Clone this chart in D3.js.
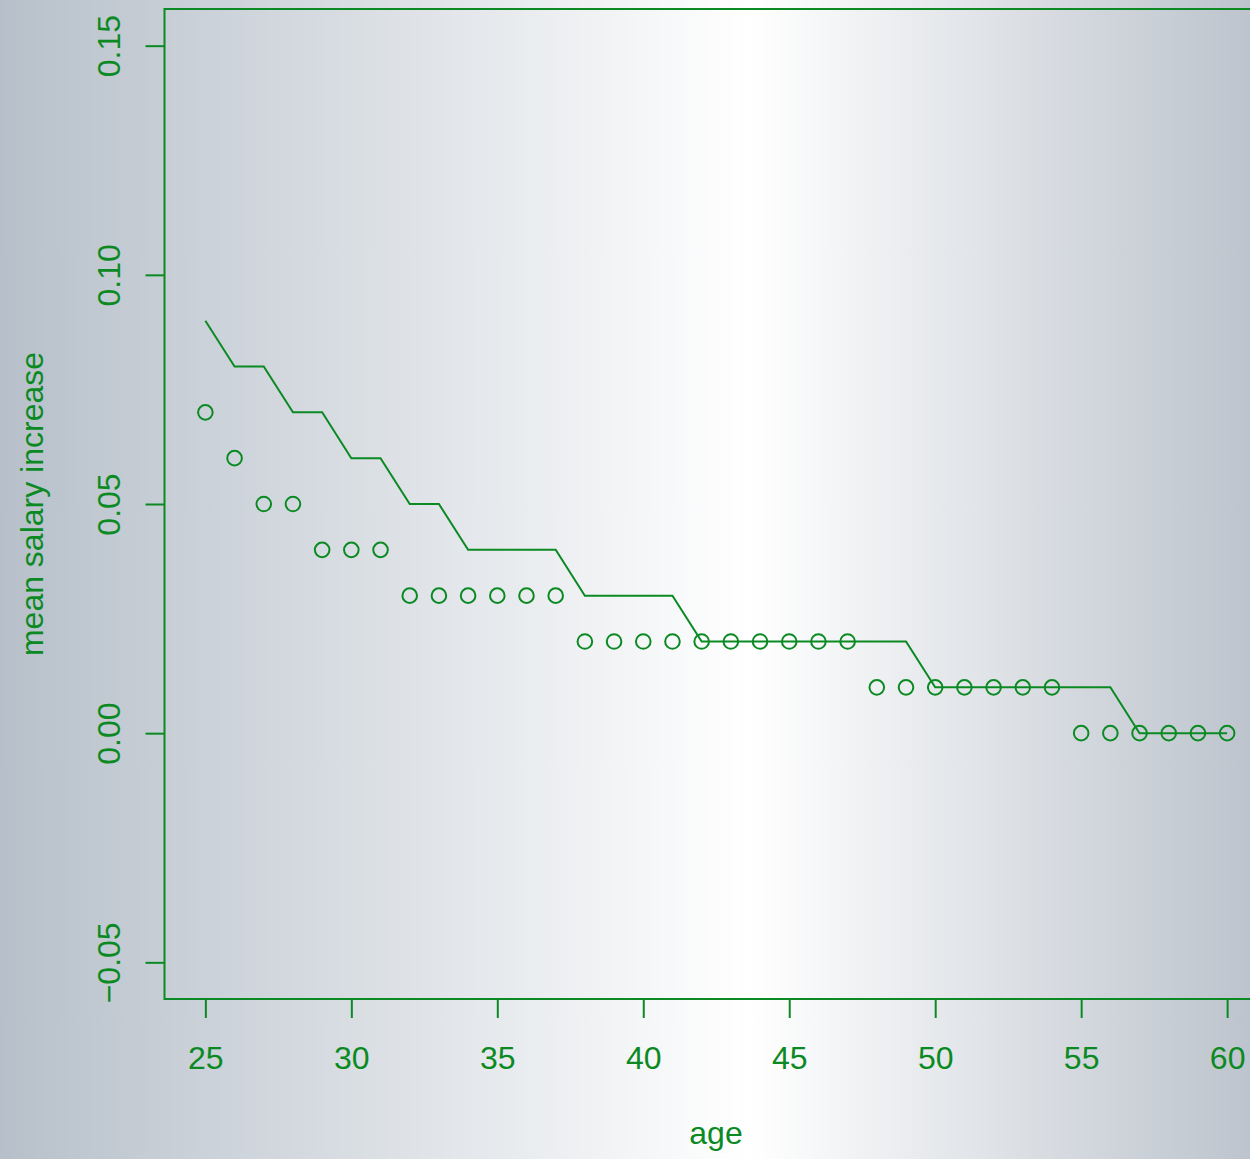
<!DOCTYPE html>
<html><head><meta charset="utf-8">
<script src="https://cdn.jsdelivr.net/npm/d3@7"></script>
<style>html,body{margin:0;padding:0;overflow:hidden}svg{display:block}</style>
</head><body>
<script>
const ages = [25,26,27,28,29,30,31,32,33,34,35,36,37,38,39,40,41,42,43,44,45,46,47,48,49,50,51,52,53,54,55,56,57,58,59,60];
const pointValues = [0.07,0.06,0.05,0.05,0.04,0.04,0.04,0.03,0.03,0.03,0.03,0.03,0.03,0.02,0.02,0.02,0.02,0.02,0.02,0.02,0.02,0.02,0.02,0.01,0.01,0.01,0.01,0.01,0.01,0.01,0.00,0.00,0.00,0.00,0.00,0.00];
const lineValues = [0.09,0.08,0.08,0.07,0.07,0.06,0.06,0.05,0.05,0.04,0.04,0.04,0.04,0.03,0.03,0.03,0.03,0.02,0.02,0.02,0.02,0.02,0.02,0.02,0.02,0.01,0.01,0.01,0.01,0.01,0.01,0.01,0.00,0.00,0.00,0.00];
const xTicks = [25,30,35,40,45,50,55,60];
const yTicks = [-0.05,0.00,0.05,0.10,0.15];
const yTickLabels = ["\u22120.05","0.00","0.05","0.10","0.15"];
const xLabel = "age";
const yLabel = "mean salary increase";

const W = 1250, H = 1159;
const col = "#0b8a23";
const font = "Liberation Sans, Arial, sans-serif";
const fs = 32;
const svg = d3.select("body").append("svg").attr("width", W).attr("height", H);
const defs = svg.append("defs");
const g = defs.append("linearGradient").attr("id","bg").attr("x1","0").attr("x2","1").attr("y1","0").attr("y2","0");
g.append("stop").attr("offset","0").attr("stop-color","#b7c0ca");
g.append("stop").attr("offset","0.6").attr("stop-color","#ffffff");
g.append("stop").attr("offset","1").attr("stop-color","#bdc4cd");
svg.append("rect").attr("width",W).attr("height",H).attr("fill","url(#bg)");

const x = d3.scaleLinear().domain([23.6, 61.4]).range([164.5, 1268]);
const y = d3.scaleLinear().domain([-0.058, 0.158]).range([999, 9]);

// box
svg.append("rect").attr("x", x.range()[0]).attr("y", y.range()[1])
  .attr("width", x.range()[1]-x.range()[0]).attr("height", y.range()[0]-y.range()[1])
  .attr("fill","none").attr("stroke",col).attr("stroke-width",2);

// x axis
const xAxis = d3.axisBottom(x).tickValues(xTicks).tickSize(19).tickFormat(d3.format("d"));
const xg = svg.append("g").attr("transform",`translate(0,${y.range()[0]})`).call(xAxis);
xg.select(".domain").remove();
xg.selectAll("line").attr("stroke",col).attr("stroke-width",2);
xg.selectAll("text").attr("fill",col).attr("font-size",fs).attr("font-family",font)
  .attr("dy",null).attr("y",70);

// y axis
const yAxis = d3.axisLeft(y).tickValues(yTicks).tickSize(19).tickFormat((d,i)=>yTickLabels[i]);
const yg = svg.append("g").attr("transform",`translate(${x.range()[0]},0)`).call(yAxis);
yg.select(".domain").remove();
yg.selectAll("line").attr("stroke",col).attr("stroke-width",2);
yg.selectAll("text").attr("fill",col).attr("font-size",fs).attr("font-family",font)
  .attr("x",null).attr("dy",null).attr("text-anchor","middle")
  .attr("transform","translate(-44.5,0) rotate(-90)");

// labels
svg.append("text").attr("x", 716).attr("y", 1144).attr("text-anchor","middle")
  .attr("fill",col).attr("font-size",fs).attr("font-family",font).text(xLabel);
svg.append("text").attr("transform","translate(43,504) rotate(-90)").attr("text-anchor","middle")
  .attr("fill",col).attr("font-size",fs).attr("font-family",font).text(yLabel);

// line
const line = d3.line().x((d,i)=>x(ages[i])).y(d=>y(d));
svg.append("path").datum(lineValues).attr("d",line).attr("fill","none").attr("stroke",col).attr("stroke-width",2);

// points
svg.append("g").selectAll("circle").data(pointValues).join("circle")
  .attr("cx",(d,i)=>x(ages[i])).attr("cy",d=>y(d)).attr("r",7.3)
  .attr("fill","none").attr("stroke",col).attr("stroke-width",2);
</script>
</body></html>
